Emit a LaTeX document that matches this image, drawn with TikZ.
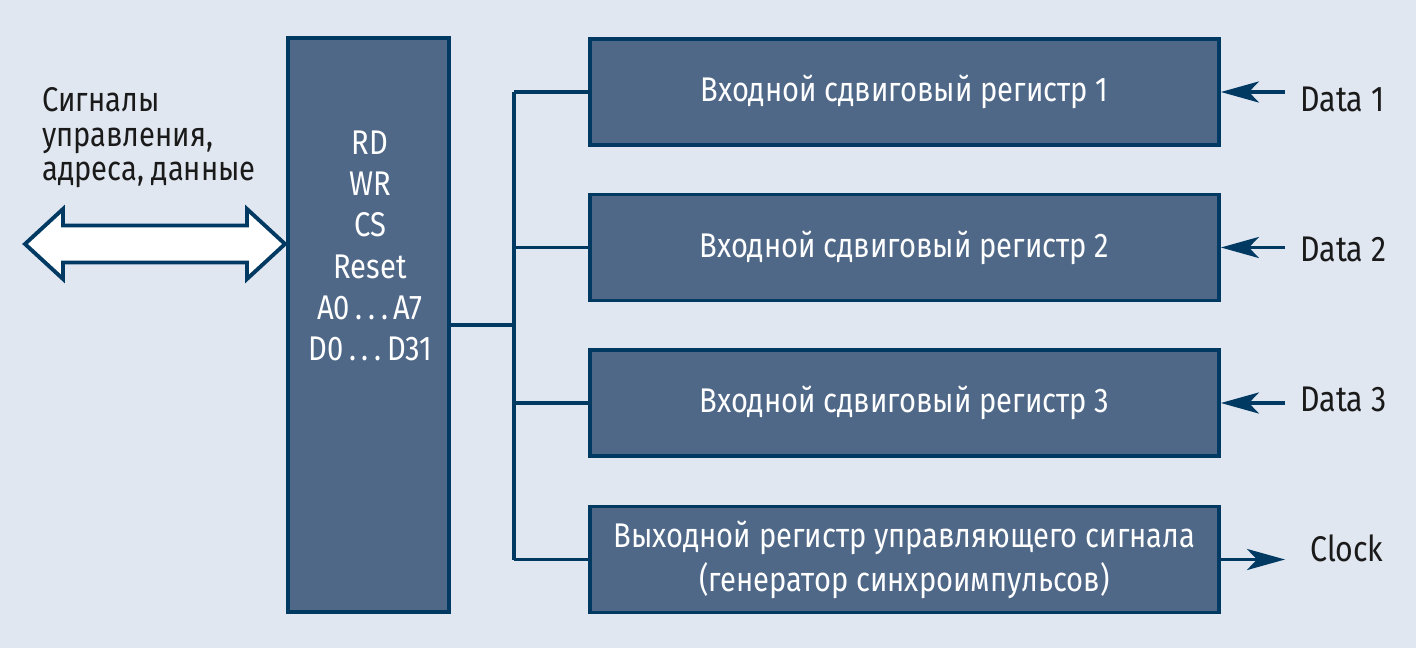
\documentclass[tikz,border=0pt]{standalone}
\usepackage{fontspec}
\setmainfont{Fira Sans}[FakeStretch=0.85]
\usetikzlibrary{arrows.meta,positioning}

\definecolor{bgcol}{HTML}{E1E7F0}
\definecolor{boxcol}{HTML}{4F6888}
\definecolor{linecol}{HTML}{003A63}
\definecolor{txtcol}{HTML}{1A1A1A}

\tikzset{
  block/.style={rectangle, draw=linecol, fill=boxcol, line width=2.2pt, text=white, align=center},
  regbox/.style={block, minimum width=12.58cm, minimum height=2.12cm, font=\fontsize{19.5}{25}\selectfont},
  bus/.style={draw=linecol, line width=2.2pt},
  sig/.style={bus, -{Stealth[length=0.76cm, width=0.42cm, inset=0.2cm]}},
  extlabel/.style={text=txtcol, font=\fontsize{20.3}{23}\selectfont, anchor=west, inner xsep=0.3cm}
}

\begin{document}
\begin{tikzpicture}[x=0.02cm, y=-0.02cm]
    % Background
    \fill[bgcol] (0,0) rectangle (1416,648);
    \useasboundingbox (0,0) rectangle (1416,648);

    % Interface block
    \node[block, minimum width=3.22cm, minimum height=11.48cm] (ctrl) at (368.5,325) {};
    \node[text=white, align=center, font=\fontsize{19.5}{23.5}\selectfont] (pins) at (370,246)
        {RD\\WR\\CS\\Reset\\A0\,.\,.\,.\,A7\\D0\,.\,.\,.\,D31};

    % Host signals
    \node[text=txtcol, align=left, anchor=west, inner sep=0pt, font=\fontsize{19.5}{19.6}\selectfont] (host) at (42,138)
        {Сигналы\\управления,\\адреса, данные};
    \draw[draw=linecol, fill=white, line width=2.2pt, line join=miter]
        (25,244) -- (63,209) -- (63,225.5) -- (247,225.5) -- (247,209) -- (285,244)
        -- (247,279) -- (247,262.5) -- (63,262.5) -- (63,279) -- cycle;

    % Registers
    \node[regbox] (reg1) at (904.5,92) {Входной сдвиговый регистр 1};
    \node[regbox] (reg2) at (904.5,247.5) {Входной сдвиговый регистр 2};
    \node[regbox] (reg3) at (904.5,403) {Входной сдвиговый регистр 3};
    \node[regbox] (reg4) at (904.5,559.5) {Выходной регистр управляющего сигнала\\(генератор синхроимпульсов)};

    % Bus
    \coordinate (bus) at (514,325);
    \draw[bus] (ctrl.east) -- (bus);
    \draw[bus] (bus |- reg1.west) -- (bus |- reg4.west);
    \draw[bus] (bus |- reg1.west) -- (reg1.west);
    \draw[bus] (bus |- reg2.west) -- (reg2.west);
    \draw[bus] (bus |- reg3.west) -- (reg3.west);
    \draw[bus] (bus |- reg4.west) -- (reg4.west);

    % Inputs and output
    \node[extlabel] (d1) at (1285,99) {Data 1};
    \node[extlabel] (d2) at (1285,249) {Data 2};
    \node[extlabel] (d3) at (1285,399) {Data 3};
    \node[extlabel, inner xsep=0.5cm] (clk) at (1285,548) {Clock};
    \draw[sig] (d1.west |- reg1.east) -- (reg1.east);
    \draw[sig] (d2.west |- reg2.east) -- (reg2.east);
    \draw[sig] (d3.west |- reg3.east) -- (reg3.east);
    \draw[sig] (reg4.east) -- (clk.west |- reg4.east);
\end{tikzpicture}
\end{document}
